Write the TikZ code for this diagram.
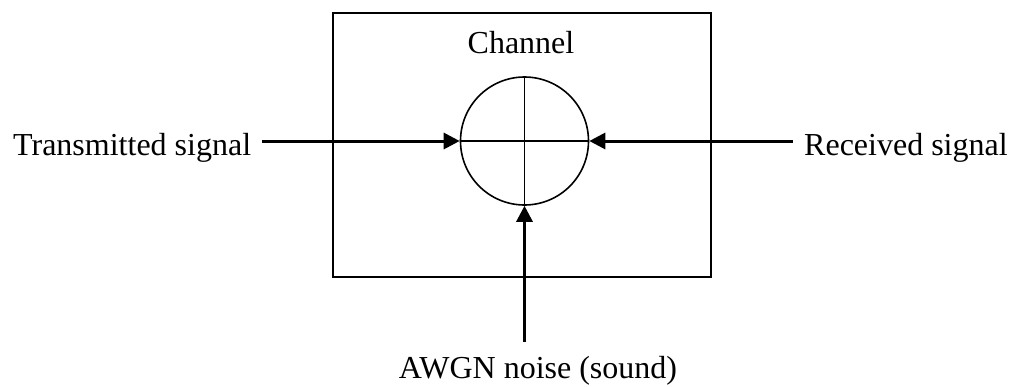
\documentclass[tikz,border=0pt]{standalone}
\usepackage{fontspec}
\setmainfont{Liberation Serif}
\usetikzlibrary{arrows.meta}
\begin{document}
\begin{tikzpicture}[x=1pt,y=-1pt,
  lbl/.style={font=\fontsize{32}{38}\selectfont, inner sep=0pt},
  thin line/.style={line width=1.6pt},
  sigarrow/.style={line width=3pt, -{Triangle[length=16pt,width=16pt]}}]
\useasboundingbox (0,0) rectangle (1010,386);
\node[draw, thin line, minimum width=378pt, minimum height=264pt, inner sep=0pt] (box) at (522,145) {};
\node[draw, thin line, circle, minimum size=128pt, inner sep=0pt] (c) at (524.5,141) {};
\draw[thin line] (c.west) -- (c.east);
\draw[thin line] (c.north) -- (c.south);
\node[lbl, anchor=base] (ch) at (521,53) {Channel};
\node[lbl, anchor=base west] (tx) at (13,155) {Transmitted signal};
\node[lbl, anchor=base west] (rx) at (804,155) {Received signal};
\node[lbl, anchor=base] (nz) at (538,378) {AWGN noise (sound)};
\coordinate (txs) at (262,141);
\coordinate (rxs) at (793,141);
\coordinate (nzs) at (524.5,342);
\draw[sigarrow] (txs) -- (c.west);
\draw[sigarrow] (rxs) -- (c.east);
\draw[sigarrow] (nzs) -- (c.south);
\end{tikzpicture}
\end{document}
